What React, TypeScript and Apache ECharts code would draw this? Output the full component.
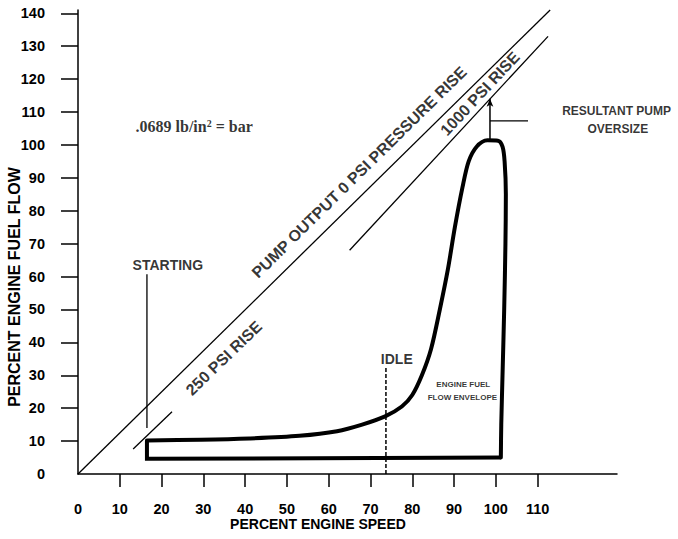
import React, { useEffect, useRef } from "react";
import * as echarts from "echarts";

// Axis ticks / labels
const xTickValues = [10, 20, 30, 40, 50, 60, 70, 80, 90, 100, 110];
const xLabelValues = [0, 10, 20, 30, 40, 50, 60, 70, 80, 90, 100, 110];
const yTickValues = [10, 20, 30, 40, 50, 60, 70, 80, 90, 100, 110, 120, 130, 140];
const yLabelValues = [0, 10, 20, 30, 40, 50, 60, 70, 80, 90, 100, 110, 120, 130, 140];

// Lines (percent engine speed, percent engine fuel flow)
const pumpZeroPsiLine = [[0, 0], [113, 141]];
const rise250PsiLine = [[13.2, 7.6], [22.5, 18.9]];
const rise1000PsiLine = [[65, 68], [112.5, 133]];

const envelopeCurve = [
  [16.5, 10.2], [29.4, 10.4], [41, 10.8], [53, 11.6], [62, 13], [68, 15], [73.5, 17.5],
  [77.5, 20.5], [80, 24], [82.3, 30], [84.5, 38], [86.6, 50], [88.5, 62], [90.2, 75],
  [92, 87], [93.5, 95], [95.5, 99.6], [98, 101.4], [100.5, 101.3], [101.6, 99.5],
  [102.1, 95], [102.4, 85], [102.3, 70], [102, 50], [101.6, 30], [101.3, 15], [101.2, 5],
];
const envelopeBase = [[101.2, 5], [16.5, 4.6], [16.5, 10.2]];

const startingMarker = [[16.5, 14], [16.5, 60.7]];
const idleMarker = [[73.7, 0], [73.7, 32.3]];
const oversizeArrow = [[98.6, 101.6], [98.6, 114]];
const oversizeLeader = [[98.6, 107.3], [107.7, 107.3]];

// Annotations: [x, y, text, rotate, fontSize]
const annotations: [number, number, string, number, number][] = [
  [67.3, 91.7, "PUMP OUTPUT 0 PSI PRESSURE RISE", 44.5, 16],
  [34.9, 35.2, "250 PSI RISE", 44, 16],
  [96.2, 115.6, "1000 PSI RISE", 47, 16],
  [21.5, 63.4, "STARTING", 0, 14],
  [76.3, 34.8, "IDLE", 0, 14],
  [128.9, 110.4, "RESULTANT PUMP", 0, 12],
  [129.2, 104.9, "OVERSIZE", 0, 12],
];
const envelopeNote: [number, number, string][] = [
  [92.2, 27.1, "ENGINE FUEL"],
  [92, 23.3, "FLOW ENVELOPE"],
];
const conversionNote: [number, number, string] = [27.8, 105.5, ".0689 lb/in{sup|2} = bar"];

const xTitle = "PERCENT ENGINE SPEED";
const yTitle = "PERCENT ENGINE FUEL FLOW";

const SANS = "'Liberation Sans', Arial, sans-serif";
const SERIF = "'Liberation Serif', 'Times New Roman', serif";

function thin(data: number[][], extra: any = {}) {
  return {
    type: "line",
    data,
    showSymbol: false,
    symbol: "none",
    silent: true,
    clip: false,
    lineStyle: { color: "#000", width: 1.3, ...(extra.lineStyle || {}) },
    z: 3,
  };
}

function textPoint(x: number, y: number, t: string, rotate: number, fontSize: number, family: string, rich?: any) {
  return {
    value: [x, y],
    label: {
      show: true,
      position: "inside",
      formatter: t,
      rotate,
      fontSize,
      fontFamily: family,
      fontWeight: "bold",
      color: "#000",
      align: "center",
      verticalAlign: "middle",
      ...(rich ? { rich } : {}),
    },
  };
}

export default function App() {
  const ref = useRef<HTMLDivElement>(null);
  useEffect(() => {
    document.body.style.margin = "0";
    document.body.style.overflow = "hidden";
    if (!ref.current) return;
    const chart = echarts.init(ref.current, null, { renderer: "svg" });
    const textData = [
      ...annotations.map(([x, y, t, r, fs]) => textPoint(x, y, t, r, fs, SANS)),
      ...envelopeNote.map(([x, y, t]) => textPoint(x, y, t, 0, 8, SANS)),
      textPoint(conversionNote[0], conversionNote[1], conversionNote[2], 0, 16, SERIF, {
        sup: {
          fontSize: 10,
          fontFamily: SERIF,
          fontWeight: "bold",
          color: "#000",
          verticalAlign: "top",
          padding: [0, 0, 7, 0],
        },
      }),
    ];
    chart.setOption({
      animation: false,
      backgroundColor: "#fff",
      grid: { left: 78, right: 61, top: 10, bottom: 65, containLabel: false },
      xAxis: {
        type: "value",
        min: 0,
        max: 129,
        axisLine: { show: true, lineStyle: { color: "#000", width: 1.5 } },
        axisTick: { show: true, length: 13, lineStyle: { color: "#000", width: 1.5 }, customValues: xTickValues },
        axisLabel: {
          margin: 27,
          fontFamily: SANS,
          fontWeight: "bold",
          fontSize: 14.5,
          color: "#000",
          customValues: xLabelValues,
        },
        splitLine: { show: false },
      },
      yAxis: {
        type: "value",
        min: 0,
        max: 141,
        axisLine: { show: true, lineStyle: { color: "#000", width: 1.5 } },
        axisTick: { show: true, length: 17, lineStyle: { color: "#000", width: 1.5 }, customValues: yTickValues },
        axisLabel: {
          margin: 33,
          fontFamily: SANS,
          fontWeight: "bold",
          fontSize: 14.5,
          color: "#000",
          customValues: yLabelValues,
        },
        splitLine: { show: false },
      },
      graphic: [
        {
          type: "text",
          x: 318,
          y: 524,
          style: {
            text: xTitle,
            fontFamily: SANS,
            fontWeight: "bold",
            fontSize: 14,
            fill: "#000",
            textAlign: "center",
            textVerticalAlign: "middle",
          },
        },
        {
          type: "text",
          x: 14,
          y: 287,
          rotation: Math.PI / 2,
          style: {
            text: yTitle,
            fontFamily: SANS,
            fontWeight: "bold",
            fontSize: 16,
            fill: "#000",
            textAlign: "center",
            textVerticalAlign: "middle",
          },
        },
      ],
      series: [
        thin(pumpZeroPsiLine),
        thin(rise250PsiLine),
        thin(rise1000PsiLine),
        thin(startingMarker),
        thin(idleMarker, { lineStyle: { type: [4, 2], width: 1.5 } }),
        thin(oversizeLeader),
        {
          type: "line",
          silent: true,
          z: 3,
          lineStyle: { color: "#000", width: 1.5 },
          itemStyle: { color: "#000" },
          data: [
            { value: oversizeArrow[0], symbol: "none" },
            { value: oversizeArrow[1], symbol: "arrow", symbolSize: [5, 8] },
          ],
        },
        {
          type: "line",
          data: envelopeCurve,
          smooth: 0.3,
          showSymbol: false,
          symbol: "none",
          silent: true,
          lineStyle: { color: "#000", width: 4, join: "round", cap: "round" },
          z: 4,
        },
        {
          type: "line",
          data: envelopeBase,
          showSymbol: false,
          symbol: "none",
          silent: true,
          lineStyle: { color: "#000", width: 4, join: "miter" },
          z: 4,
        },
        {
          type: "scatter",
          symbolSize: 1,
          clip: false,
          itemStyle: { color: "rgba(0,0,0,0)" },
          silent: true,
          z: 5,
          data: textData,
        },
      ],
    });
    return () => chart.dispose();
  }, []);
  return <div ref={ref} style={{ width: 678, height: 539 }} />;
}
